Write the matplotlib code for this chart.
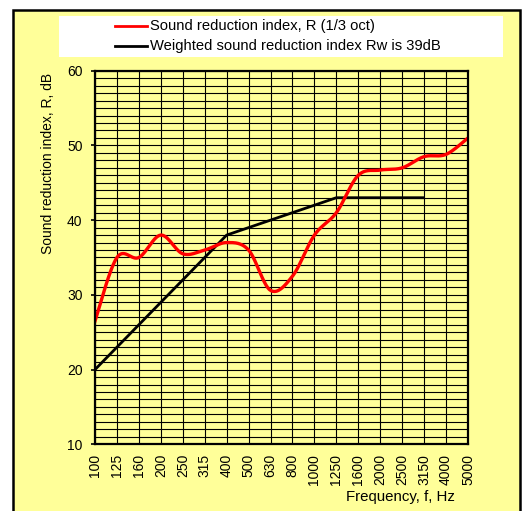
import numpy as np
import matplotlib
matplotlib.use("Agg")
import matplotlib.pyplot as plt
from matplotlib.patches import Rectangle
from matplotlib.lines import Line2D

plt.rcParams['font.family'] = ['Liberation Sans', 'DejaVu Sans']

freqs = ["100", "125", "160", "200", "250", "315", "400", "500", "630", "800",
         "1000", "1250", "1600", "2000", "2500", "3150", "4000", "5000"]
R_values = [26.5, 35.0, 35.0, 38.0, 35.5, 36.0, 37.0, 36.0, 30.6, 32.5,
            38.0, 41.0, 46.0, 46.7, 47.0, 48.5, 48.8, 51.0]
Rw_values = [20, 23, 26, 29, 32, 35, 38, 39, 40, 41, 42, 43, 43, 43, 43, 43]
y_ticks = [10, 20, 30, 40, 50, 60]

legend_labels = ["Sound reduction index, R (1/3 oct)",
                 "Weighted sound reduction index Rw is 39dB"]


def smooth(xs, ys, n=30):
    xs = np.asarray(xs, float)
    ys = np.asarray(ys, float)
    px = np.concatenate([[xs[0]], xs, [xs[-1]]])
    py = np.concatenate([[ys[0]], ys, [ys[-1]]])
    outx, outy = [], []
    t = np.linspace(0, 1, n)
    for i in range(1, len(px) - 2):
        p0 = np.array([px[i - 1], py[i - 1]])
        p1 = np.array([px[i], py[i]])
        p2 = np.array([px[i + 1], py[i + 1]])
        p3 = np.array([px[i + 2], py[i + 2]])
        c1 = p1 + (p2 - p0) / 6.0
        c2 = p2 - (p3 - p1) / 6.0
        b = ((1 - t) ** 3)[:, None] * p1 + (3 * (1 - t) ** 2 * t)[:, None] * c1 \
            + (3 * (1 - t) * t ** 2)[:, None] * c2 + (t ** 3)[:, None] * p2
        outx.extend(b[:, 0])
        outy.extend(b[:, 1])
    return np.array(outx), np.array(outy)


W, H = 528, 511
fig = plt.figure(figsize=(W / 100, H / 100), dpi=100)
fig.patch.set_facecolor('white')

# outer yellow panel
panel = Rectangle((13 / W, -0.05), (520 - 13) / W, 1 - 10 / H + 0.05,
                  transform=fig.transFigure, facecolor='#FFFF99',
                  edgecolor='black', linewidth=1.8, zorder=-3)
fig.patches.append(panel)

# legend white box
lbox = Rectangle((59 / W, 1 - 57 / H), 444 / W, 41 / H,
                 transform=fig.transFigure, facecolor='white',
                 edgecolor='none', zorder=-2)
fig.patches.append(lbox)
for (yy, col, lab) in [(26, 'red', legend_labels[0]), (46, 'black', legend_labels[1])]:
    fig.lines.append(Line2D([115 / W, 147 / W], [1 - yy / H, 1 - yy / H],
                            transform=fig.transFigure, color=col, linewidth=2.0, zorder=2))
    fig.text(150 / W, 1 - yy / H, lab, fontsize=10.6, va='center', ha='left', zorder=3)

left, right, top, bottom = 95, 468, 70.7, 444.3
ax = fig.add_axes([left / W, 1 - bottom / H, (right - left) / W, (bottom - top) / H])
ax.set_facecolor('#FFFF99')

x = np.arange(len(freqs))
ax.set_xlim(0, len(freqs) - 1)
ax.set_ylim(10, 60)

# grid
for yv in range(10, 61):
    ax.axhline(yv, color='black', linewidth=0.8, zorder=1)
for xv in x:
    ax.axvline(xv, color='black', linewidth=0.8, zorder=1)

# Rw curve
ax.plot(x[:len(Rw_values)], Rw_values, color='black', linewidth=2.0, zorder=3,
        solid_capstyle='butt')
# R curve (smoothed)
sx, sy = smooth(x, R_values)
ax.plot(sx, sy, color='red', linewidth=2.4, zorder=4)

ax.set_xticks(x)
ax.set_xticklabels(freqs, rotation=90, fontsize=10)
ax.set_yticks(y_ticks)
ax.set_yticklabels([str(v) for v in y_ticks], fontsize=10)
ax.tick_params(axis='x', length=0, pad=7)
ax.tick_params(axis='y', length=3, width=1.2, pad=6, direction='out')
for s in ax.spines.values():
    s.set_linewidth(1.6)
    s.set_zorder(5)

fig.text(48 / W, 1 - 163 / H, "Sound reduction index, R, dB", rotation=90,
         fontsize=10, ha='center', va='center')
fig.text(400 / W, 1 - 497 / H, "Frequency, f, Hz", fontsize=10.8,
         ha='center', va='center')

fig.savefig("out.png", dpi=100, facecolor='white')
